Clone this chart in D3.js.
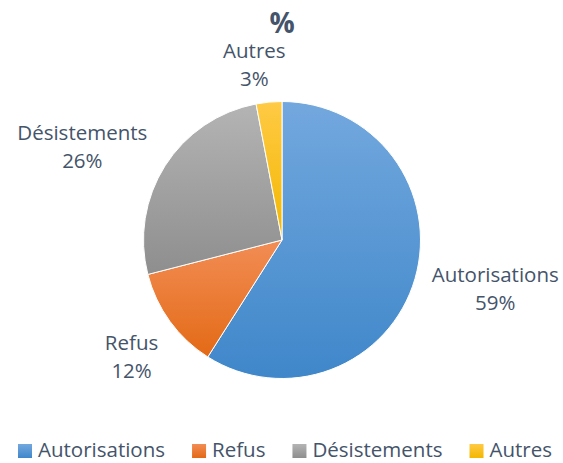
<!DOCTYPE html>
<html>
<head>
<meta charset="utf-8">
<script src="https://cdn.jsdelivr.net/npm/d3@7"></script>
<style>
  body { margin: 0; background: #fff; }
  svg text { font-family: "Open Sans", sans-serif; fill: #44546A; }
</style>
</head>
<body>
<div class="chart"></div>
<script>
// ------------------------------------------------------------------------------------------------------------------
// Data
var categories = ["Autorisations", "Refus", "Désistements", "Autres"];
var percents   = [59, 12, 26, 3];
var chartTitle = "%";

// ------------------------------------------------------------------------------------------------------------------
// Global var
var width = 563,
  height = 463,
  radius = 138.5,
  cx = 282,
  cy = 240;

var colorTop    = ["#73A8DE", "#F28D55", "#B4B4B4", "#FFCA45"];
var colorBottom = ["#3F87CA", "#E36A16", "#8E8E8E", "#F3B700"];

// label placement (Excel "best fit" look) : nudge from the label arc centroid
var labelNudge = {
  "Autorisations": [43, 0],
  "Refus": [-7, 13],
  "Désistements": [-50, 2],
  "Autres": [-11, 1]
};

var svg = d3.select(".chart").append("svg")
  .attr("width", width)
  .attr("height", height);

// gradients
var defs = svg.append("defs");
for (var i = 0; i < categories.length; i++) {
  var grad = defs.append("linearGradient")
    .attr("id", "grad" + i)
    .attr("x1", 0).attr("y1", 0)
    .attr("x2", 0).attr("y2", 1);
  grad.append("stop").attr("offset", "0%").attr("stop-color", colorTop[i]);
  grad.append("stop").attr("offset", "100%").attr("stop-color", colorBottom[i]);
}

// ------------------------------------------------------------------------------------------------------------------
// Title
svg.append("text")
  .attr("x", cx)
  .attr("y", 33)
  .attr("text-anchor", "middle")
  .style("font-size", "28px")
  .style("font-weight", "bold")
  .text(chartTitle);

// ------------------------------------------------------------------------------------------------------------------
// Pie
var g = svg.append("g")
  .attr("transform", "translate(" + cx + "," + cy + ")");

var pie = d3.pie()
  .sort(null)
  .value(function(d) { return d; });

var arc = d3.arc()
  .innerRadius(0)
  .outerRadius(radius);

var labelArc = d3.arc()
  .innerRadius(radius * 1.28)
  .outerRadius(radius * 1.28);

var slices = pie(percents);

g.selectAll(".slice")
  .data(slices)
  .enter().append("path")
  .attr("class", "slice")
  .attr("d", arc)
  .attr("fill", function(d, i) { return "url(#grad" + i + ")"; })
  .attr("stroke", "#fff")
  .attr("stroke-width", 1);

var labels = g.selectAll(".lbl")
  .data(slices)
  .enter().append("text")
  .attr("class", "lbl")
  .attr("text-anchor", "middle")
  .style("font-size", "20.5px")
  .attr("transform", function(d, i) {
    var c = labelArc.centroid(d);
    var n = labelNudge[categories[i]];
    return "translate(" + (c[0] + n[0]) + "," + (c[1] + n[1]) + ")";
  });

labels.append("tspan")
  .attr("x", 0)
  .attr("y", -7)
  .text(function(d, i) { return categories[i]; });

labels.append("tspan")
  .attr("x", 0)
  .attr("y", 21)
  .text(function(d) { return d.data + "%"; });

// ------------------------------------------------------------------------------------------------------------------
// Legend
var legend = svg.append("g").attr("class", "legend");
var lx = 18;
for (var i = 0; i < categories.length; i++) {
  legend.append("rect")
    .attr("x", lx)
    .attr("y", 444)
    .attr("width", 14)
    .attr("height", 14)
    .attr("fill", "url(#grad" + i + ")");
  var t = legend.append("text")
    .attr("x", lx + 20)
    .attr("y", 457)
    .style("font-size", "20.5px")
    .text(categories[i]);
  lx = lx + 20 + t.node().getComputedTextLength() + 27;
}
</script>
</body>
</html>
